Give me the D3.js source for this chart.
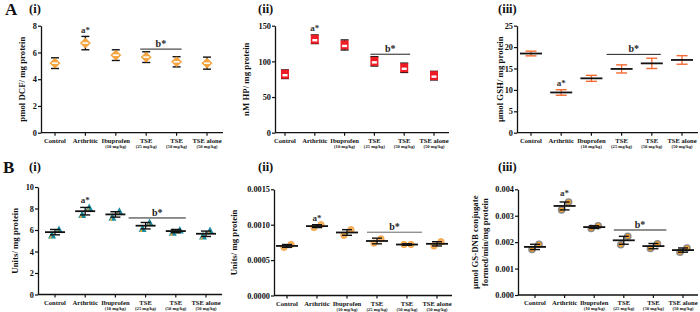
<!DOCTYPE html>
<html>
<head>
<meta charset="utf-8">
<script src="https://cdn.jsdelivr.net/npm/d3@7"></script>
<style>
  body { margin: 0; background: #fff; }
  text { font-family: "Liberation Serif", "Times New Roman", serif; font-weight: bold; }
</style>
</head>
<body>
<svg id="chart" width="700" height="312"></svg>
<script>
// group names and doses (shared by all six panels)
const groups = ["Control", "Arthritic", "Ibuprofen", "TSE", "TSE", "TSE alone"];
const doses = ["", "", "(10 mg/kg)", "(25 mg/kg)", "(50 mg/kg)", "(50 mg/kg)"];

// A (i) ROS - pmol DCF / mg protein
const dcfMean = [5.2, 6.7, 5.8, 5.65, 5.3, 5.2];
const dcfSem = [0.4, 0.5, 0.4, 0.4, 0.38, 0.45];
// A (ii) hydroperoxides
const hpMean = [82, 131, 123, 100, 91, 80];
const hpSem = [6, 6, 7, 6.5, 6.5, 6];
// A (iii) GSH
const gshMean = [18.5, 9.4, 12.7, 14.9, 16.2, 17];
const gshSem = [0.55, 0.65, 0.7, 0.95, 1.2, 1.0];
// B (i) SOD units
const sodMean = [5.8, 7.75, 7.45, 6.4, 5.9, 5.65];
const sodSem = [0.25, 0.35, 0.25, 0.3, 0.15, 0.25];
const sodPoints = [[5.5, 6.0], [7.4, 8.05], [7.15, 7.7], [6.1, 6.65], [5.75, 5.95], [5.4, 5.9]];
// B (ii) catalase units
const catMean = [0.0007, 0.00098, 0.00089, 0.00077, 0.00072, 0.00073];
const catSem = [0.00002, 0.00002, 0.00004, 0.00004, 0.00001, 0.00003];
const catPoints = [[0.00068, 0.00072], [0.00096, 0.001], [0.00085, 0.00093], [0.00074, 0.0008], [0.00072, 0.00072], [0.0007, 0.00076]];
// B (iii) GST
const gstMean = [0.00182, 0.00337, 0.00257, 0.00207, 0.00185, 0.0017];
const gstSem = [0.0001, 0.00015, 0.00005, 0.00015, 0.0001, 0.00008];
const gstPoints = [[0.00172, 0.00192], [0.00322, 0.00352], [0.00252, 0.00262], [0.0019, 0.00222], [0.00176, 0.00194], [0.00162, 0.00178]];

// y ticks
const dcfTicks = [0, 2, 4, 6, 8];
const hpTicks = [0, 50, 100, 150];
const gshTicks = [0, 5, 10, 15, 20, 25];
const sodTicks = [0, 2, 4, 6, 8, 10];
const catTicks = [0, 0.0005, 0.001, 0.0015];
const gstTicks = [0, 0.001, 0.002, 0.003, 0.004];

// significance brackets (value at which the line sits)
const bracketLevels = [6.25, 110, 18.3, 7.12, 0.000894, 0.00246];

const svg = d3.select("#chart");

function drawPanel(p) {
  const g = svg.append("g");
  const x = d3.scalePoint().domain(d3.range(groups.length)).range([p.first, p.last]);
  const y = d3.scaleLinear().domain([0, p.max]).range([p.bottom, p.top]);

  // y axis
  const yAxis = d3.axisLeft(y).tickValues(p.ticks).tickFormat(p.fmt).tickSize(3).tickSizeOuter(0);
  const ya = g.append("g").attr("transform", `translate(${p.left},0)`).call(yAxis);
  ya.select(".domain").attr("stroke", "#111").attr("stroke-width", 1.3);
  ya.selectAll(".tick line").attr("stroke", "#111").attr("stroke-width", 1.2);
  ya.selectAll(".tick text").attr("font-size", 8.3).attr("font-family", "Liberation Serif").attr("font-weight", "bold").attr("fill", "#111").attr("x", -4);

  // x axis
  g.append("line").attr("x1", p.left).attr("x2", p.end).attr("y1", p.bottom).attr("y2", p.bottom)
    .attr("stroke", "#111").attr("stroke-width", 1.3);
  groups.forEach((name, i) => {
    g.append("line").attr("x1", x(i)).attr("x2", x(i)).attr("y1", p.bottom).attr("y2", p.bottom + 3)
      .attr("stroke", "#111").attr("stroke-width", 1.2);
    g.append("text").attr("x", x(i)).attr("y", p.bottom + 10).attr("text-anchor", "middle")
      .attr("font-size", 6.6).attr("fill", "#111").text(name);
    if (doses[i]) {
      g.append("text").attr("x", x(i)).attr("y", p.bottom + 15).attr("text-anchor", "middle")
        .attr("font-size", 4.6).attr("fill", "#111").text(doses[i]);
    }
  });

  // y label
  const midY = (p.top + p.bottom) / 2;
  p.ylabel.forEach((line, k) => {
    const lx = p.ylabelX + k * 10;
    g.append("text").attr("transform", `translate(${lx},${midY}) rotate(-90)`)
      .attr("text-anchor", "middle").attr("font-size", 8.8).attr("fill", "#111").text(line);
  });

  // panel title
  if (p.letter) {
    g.append("text").attr("x", p.letterX).attr("y", p.titleY + 1.5).attr("font-size", 17).attr("fill", "#111").text(p.letter);
  }
  g.append("text").attr("x", p.titleX).attr("y", p.titleY).attr("font-size", 12.5).attr("fill", "#111").text(p.title);

  // marks
  p.mean.forEach((m, i) => {
    const cx = x(i);
    const lo = y(m - p.sem[i]), hi = y(m + p.sem[i]);
    const ec = p.errColor || "#111";
    if (p.points) {
      const offs = [-3, 4];
      p.points[i].forEach((v, k) => {
        const px = cx + offs[k], py = y(v);
        if (p.marker === "triangle") {
          g.append("path").attr("transform", `translate(${px},${py})`)
            .attr("d", "M0,-4.5 L4,3 L-4,3 Z").attr("fill", "#1b8ca0");
          g.append("path").attr("transform", `translate(${px},${py})`)
            .attr("d", "M-0.5,-1 L-0.5,3 L-3,3 Z").attr("fill", "#f0b040");
        } else if (p.marker === "circle") {
          g.append("circle").attr("cx", px).attr("cy", py).attr("r", 3.2).attr("fill", "#f8b462").attr("stroke", "#f5a040").attr("stroke-width", 0.8);
        } else if (p.marker === "ring") {
          g.append("circle").attr("cx", px).attr("cy", py).attr("r", 3.1).attr("fill", "#f2a030").attr("stroke", "#8a8a8a").attr("stroke-width", 1.4);
        }
      });
    }
    g.append("line").attr("x1", cx).attr("x2", cx).attr("y1", lo).attr("y2", hi).attr("stroke", ec).attr("stroke-width", 1.3);
    [lo, hi].forEach(v => g.append("line").attr("x1", cx - p.cap).attr("x2", cx + p.cap).attr("y1", v).attr("y2", v)
      .attr("stroke", ec).attr("stroke-width", 1.4));
    if (p.meanW) {
      g.append("line").attr("x1", cx - p.meanW).attr("x2", cx + p.meanW).attr("y1", y(m)).attr("y2", y(m))
        .attr("stroke", "#111").attr("stroke-width", 1.8);
    }
    if (p.marker === "diamond") {
      g.append("path").attr("transform", `translate(${cx},${y(m)})`)
        .attr("d", "M0,-5 L5,0 L0,5 L-5,0 Z").attr("fill", "#f7a540").attr("stroke", "#f59b2f").attr("stroke-width", 0.8);
      g.append("line").attr("x1", cx - 3).attr("x2", cx + 3).attr("y1", y(m)).attr("y2", y(m)).attr("stroke", "#fff").attr("stroke-width", 1.6);
    }
    if (p.marker === "square") {
      g.append("rect").attr("x", cx - 4).attr("y", y(m) - 4.5).attr("width", 8).attr("height", 9).attr("fill", "#ee1c24");
      g.append("rect").attr("x", cx - 2.5).attr("y", y(m) - 0.2).attr("width", 5).attr("height", 2.4).attr("fill", "#fff");
    }
  });

  // "a*" over Arthritic
  const aTop = y(p.mean[1] + p.sem[1]);
  g.append("text").attr("x", x(1)).attr("y", aTop - p.aGap).attr("text-anchor", "middle")
    .attr("font-size", 9).attr("fill", "#333").text("a*");

  // "b*" bracket over TSE groups
  const by = y(p.bracket);
  const bx1 = x(3) - p.bpad[0], bx2 = x(4) + p.bpad[1];
  g.append("line").attr("x1", bx1).attr("x2", bx2).attr("y1", by).attr("y2", by)
    .attr("stroke", p.bracketColor || "#222").attr("stroke-width", 1);
  g.append("text").attr("x", (bx1 + bx2) / 2).attr("y", by - 2).attr("text-anchor", "middle")
    .attr("font-size", 10).attr("fill", "#222").text("b*");
}

const fmt4 = d3.format(".4f"), fmt3 = d3.format(".3f"), fmtInt = d3.format("d");

drawPanel({ letter: "A", letterX: 5, title: "(i)", titleX: 29, titleY: 13,
  left: 41, first: 55, last: 207, end: 223, top: 25.7, bottom: 132.7, max: 8, ticks: dcfTicks, fmt: fmtInt,
  ylabel: ["pmol DCF/ mg protein"], ylabelX: 25, mean: dcfMean, sem: dcfSem, marker: "diamond", cap: 4,
  bracket: bracketLevels[0], bpad: [6, 5], aGap: 3 });

drawPanel({ title: "(ii)", titleX: 258, titleY: 13,
  left: 275, first: 285, last: 434, end: 449, top: 25.7, bottom: 132.7, max: 150, ticks: hpTicks, fmt: fmtInt,
  ylabel: ["nM HP/ mg protein"], ylabelX: 249, mean: hpMean, sem: hpSem, marker: "square", cap: 4,
  bracket: bracketLevels[1], bpad: [4, 6], aGap: 4 });

drawPanel({ title: "(iii)", titleX: 498, titleY: 13,
  left: 517, first: 531, last: 682, end: 698, top: 25.7, bottom: 132.7, max: 25, ticks: gshTicks, fmt: fmtInt,
  ylabel: ["\u00b5mol GSH/ mg protein"], ylabelX: 503, mean: gshMean, sem: gshSem, errColor: "#f26a30", cap: 5.5, meanW: 11,
  bracket: bracketLevels[2], bpad: [15, 9], aGap: 4 });

drawPanel({ letter: "B", letterX: 3, title: "(i)", titleX: 29, titleY: 171,
  left: 38, first: 55, last: 206, end: 222, top: 187, bottom: 294.5, max: 10, ticks: sodTicks, fmt: fmtInt,
  ylabel: ["Units/ mg protein"], ylabelX: 18, mean: sodMean, sem: sodSem, points: sodPoints, marker: "triangle", cap: 5, meanW: 10,
  bracket: bracketLevels[3], bpad: [17, 10], aGap: 4 });

drawPanel({ title: "(ii)", titleX: 258, titleY: 171,
  left: 274, first: 287, last: 437, end: 452, top: 189.3, bottom: 295.5, max: 0.0015, ticks: catTicks, fmt: fmt4,
  ylabel: ["Units/ mg protein"], ylabelX: 237, mean: catMean, sem: catSem, points: catPoints, marker: "circle", cap: 5, meanW: 11,
  bracket: bracketLevels[4], bpad: [10, 15], bracketColor: "#666", aGap: 4 });

drawPanel({ title: "(iii)", titleX: 498, titleY: 171,
  left: 518, first: 535, last: 683, end: 698, top: 189.3, bottom: 295, max: 0.004, ticks: gstTicks, fmt: fmt3,
  ylabel: ["\u00b5mol GS-DNB conjugate", "formed/min/mg protein"], ylabelX: 478, mean: gstMean, sem: gstSem, points: gstPoints, marker: "ring", cap: 5, meanW: 11,
  bracket: bracketLevels[5], bpad: [10, 13], aGap: 6 });
</script>
</body>
</html>
